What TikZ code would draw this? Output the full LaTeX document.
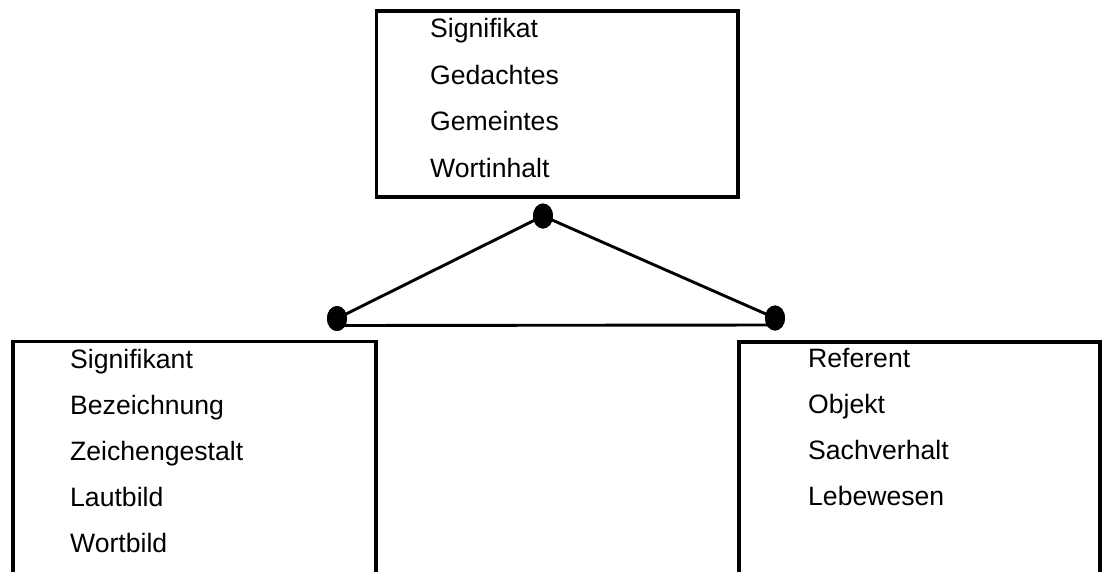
\documentclass[tikz,border=0pt]{standalone}
\usepackage{fontspec}
\setmainfont{Liberation Sans}
\usetikzlibrary{shapes.geometric}
\begin{document}
\begin{tikzpicture}[x=1pt,y=-1pt,
  boxline/.style={line width=3.6pt},
  conn/.style={line width=2.9pt},
  dot/.style={ellipse,fill=black,draw=none,inner sep=0pt,minimum width=20pt,minimum height=25pt},
  lbl/.style={anchor=base west,inner sep=0pt,font=\fontsize{26.6}{32}\selectfont}
]
\useasboundingbox (0,0) rectangle (1104,571);
% boxes
\draw[boxline] (376.5,11) rectangle (738,197);
\draw[boxline] (13,573) -- (13,341.5) -- (376,341.5) -- (376,573);
\draw[boxline] (739,573) -- (739,342) -- (1100,342) -- (1100,573);
% texts top
\node[lbl] (t1) at (430,37.5) {Signifikat};
\node[lbl] (t2) at (430,84) {Gedachtes};
\node[lbl] (t3) at (430,130.5) {Gemeintes};
\node[lbl] (t4) at (430,177) {Wortinhalt};
% texts left
\node[lbl] (l1) at (70,368) {Signifikant};
\node[lbl] (l2) at (70,414) {Bezeichnung};
\node[lbl] (l3) at (70,460) {Zeichengestalt};
\node[lbl] (l4) at (70,506) {Lautbild};
\node[lbl] (l5) at (70,552) {Wortbild};
% texts right
\node[lbl] (r1) at (808,367) {Referent};
\node[lbl] (r2) at (808,413) {Objekt};
\node[lbl] (r3) at (808,459.5) {Sachverhalt};
\node[lbl] (r4) at (808,505.5) {Lebewesen};
% dots
\node[dot] (td) at (543,216) {};
\node[dot] (ld) at (337,318.5) {};
\node[dot] (rd) at (775,318) {};
% connectors
\draw[conn] (td.center) -- (ld.center);
\draw[conn] (td.center) -- (rd.center);
\draw[conn] ([yshift=-7pt]ld.center) -- ([yshift=-7pt]rd.center);
\node[dot] at (td) {};
\node[dot] at (ld) {};
\node[dot] at (rd) {};
\end{tikzpicture}
\end{document}
